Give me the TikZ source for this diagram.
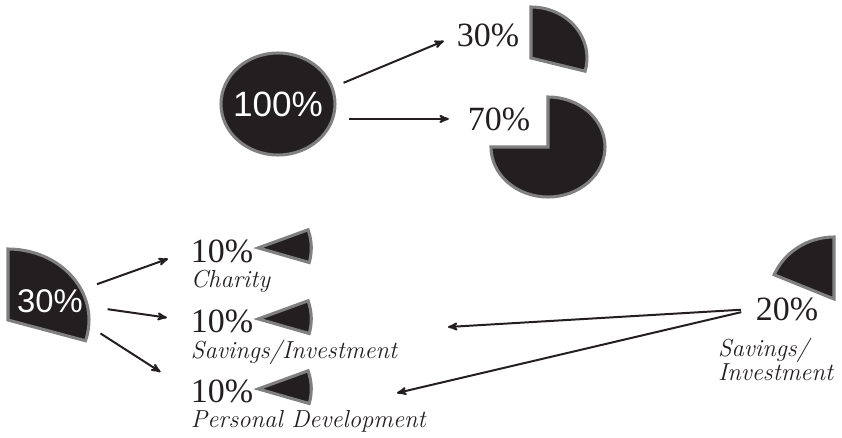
\documentclass[tikz,border=0pt]{standalone}
\usepackage{fontspec}
\newfontfamily\piesans{Liberation Sans}
\newfontfamily\pieserif{Liberation Serif}
\usetikzlibrary{arrows,shapes.geometric,positioning}
\definecolor{pieblack}{HTML}{231F20}
\definecolor{rimgray}{HTML}{808080}

\begin{document}
\begin{tikzpicture}[x=0.03cm,y=0.03cm,->,>=stealth',line width=1.7pt,draw=pieblack]
  \tikzstyle{slice} = [-, fill=pieblack, draw=rimgray, line width=2.6pt, line join=miter]
  \tikzstyle{pct} = [font=\pieserif\fontsize{29}{30}\selectfont, inner sep=0pt, text=pieblack]
  \tikzstyle{inpct} = [font=\piesans\fontsize{30}{31}\selectfont, text=white, inner sep=0pt]
  \tikzstyle{what} = [font=\itshape\fontsize{21}{17}\selectfont, inner sep=0pt, text=pieblack, align=left]
  \useasboundingbox (0,0) rectangle (842,437);

  \node [ellipse, slice, minimum width=3.42cm, minimum height=3.06cm, inpct, inner sep=-5pt] (all) at (278,333) {100\%};
  \draw [slice] (531,379) -- (531,430) arc[start angle=90, end angle=-15, x radius=56, y radius=51] -- cycle;
  \draw [slice] (548,290) -- (548,340) arc[start angle=90, end angle=-180, x radius=57, y radius=50] -- cycle;
  \node [pct, anchor=base] (t30) at (488,390) {30\%};
  \node [pct, anchor=base] (t70) at (499,307) {70\%};
  \draw [shorten <=0.33cm, shorten >=0.39cm] (all.17) -- (t30.west);
  \draw [shorten <=0.36cm, shorten >=0.54cm] (all.east |- t70.west) -- (t70.west);

  \draw [slice] (8,117) -- (8,188) arc[start angle=90, end angle=-17, x radius=81, y radius=71] -- cycle;
  \node [inpct, font=\piesans\fontsize{28}{29}\selectfont] (l30) at (50,136) {30\%};

  \node [pct, anchor=base west] (pcA) at (190,175) {10\%};
  \node [pct, anchor=base west] (pcB) at (190,105) {10\%};
  \node [pct, anchor=base west] (pcC) at (190,35) {10\%};
  \node [what, below=5pt of pcA.south west, anchor=north west] (charity) {Charity};
  \node [what, below=5pt of pcB.south west, anchor=north west] (savings) {Savings/Investment};
  \node [what, below=5pt of pcC.south west, anchor=north west] (develop) {Personal Development};
  \draw [slice] ([shift={(4,3)}]pcA.east) -- ++(20:53) arc[start angle=20, end angle=-16, radius=53] -- cycle;
  \draw [slice] ([shift={(4,2)}]pcB.east) -- ++(20:53) arc[start angle=20, end angle=-16, radius=53] -- cycle;
  \draw [slice] ([shift={(4,2)}]pcC.east) -- ++(20:53) arc[start angle=20, end angle=-16, radius=53] -- cycle;
  \draw [shorten <=0.42cm, shorten >=0.7cm] (l30) -- (pcA.west);
  \draw [shorten <=0.72cm, shorten >=0.7cm] (l30) -- (pcB.west);
  \draw [shorten <=1.1cm, shorten >=1.05cm] (l30) -- (pcC.west);

  \draw [slice] (834,138) -- (834,200) arc[start angle=90, end angle=157, x radius=65, y radius=62] -- cycle;
  \node [pct, anchor=base] (t20) at (787,117) {20\%};
  \node [what, anchor=north west] (s20) at (717,100) {Savings/\\Investment};
  \coordinate (endB) at (448,110);
  \coordinate (endC) at (397,44);
  \draw [shorten <=0.42cm] (t20.west) -- (endB);
  \draw [shorten <=0.42cm] (t20.west) -- (endC);
\end{tikzpicture}
\end{document}
